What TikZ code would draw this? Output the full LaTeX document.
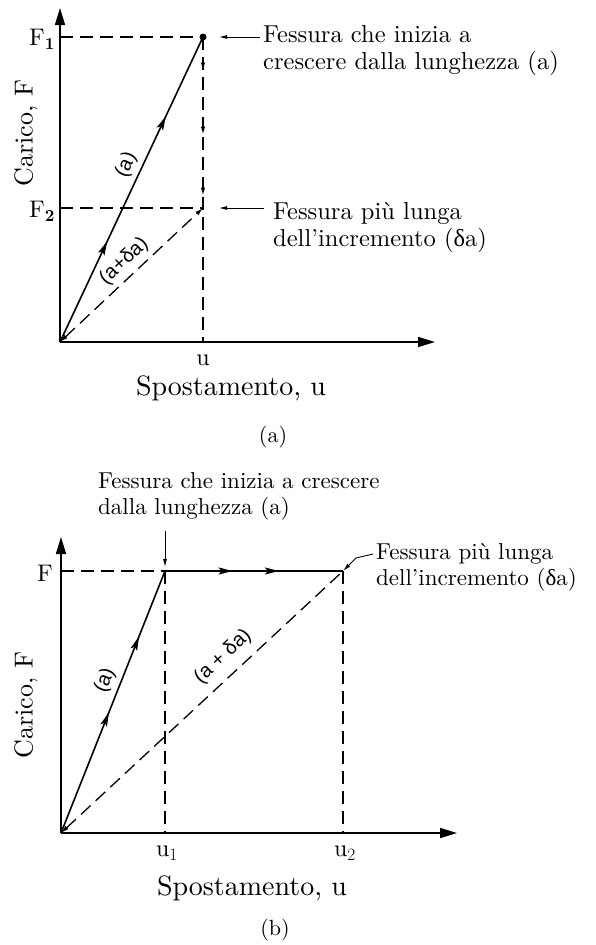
\documentclass[tikz,border=0pt]{standalone}
\usepackage{fontspec}
\setmainfont{lmroman10-regular.otf}[BoldFont=lmroman10-bold.otf]
\newfontfamily\grk{Liberation Serif}
\newfontfamily\lbl{Liberation Sans}
\usetikzlibrary{arrows.meta,decorations.markings}
\tikzset{
  flowtip/.tip={Stealth[length=14pt,width=7pt,inset=3pt]},
  smalltip/.tip={Latex[length=8pt,width=4.5pt]},
  axisline/.style={line width=1.6pt, -{Triangle[length=17pt,width=10pt]}},
  loadline/.style={line width=1.6pt},
  guide/.style={line width=1.3pt, dash pattern=on 13pt off 7pt},
  leader/.style={line width=0.9pt, -{Latex[length=8pt,width=4pt]}},
  annot/.style={font=\fontsize{24.5}{27}\selectfont, align=left, anchor=west, inner sep=0pt},
  annotb/.style={annot, font=\fontsize{23}{26}\selectfont},
  axlabel/.style={font=\fontsize{28}{30}\selectfont, inner sep=0pt},
  ylabel/.style={font=\fontsize{26}{28}\selectfont, inner sep=0pt, rotate=90},
  ticklabel/.style={font=\fontsize{24}{26}\selectfont, inner sep=0pt},
  caption/.style={font=\fontsize{22}{24}\selectfont, inner sep=0pt},
  curvelabel/.style={font=\lbl\fontsize{20}{22}\selectfont, sloped, above, inner sep=5pt},
  twoarrows/.style 2 args={postaction={decorate},
    decoration={markings, mark=at position #1 with {\arrow{flowtip}},
                          mark=at position #2 with {\arrow{flowtip}}}},
  threearrows/.style n args={3}{postaction={decorate},
    decoration={markings, mark=at position #1 with {\arrow{smalltip}},
                          mark=at position #2 with {\arrow{smalltip}},
                          mark=at position #3 with {\arrow{smalltip}}}},
}
\begin{document}
\begin{tikzpicture}[x=1pt,y=-1pt]
\useasboundingbox (0,0) rectangle (595,945);
% ---------------- (a) ----------------
\coordinate (O1) at (60,342);
\coordinate (Y1) at (60,8);
\coordinate (X1) at (435,342);
\coordinate (P1) at (203,37);
\coordinate (P2) at (203,208);
\coordinate (U1) at (203,342);
\coordinate (F1ax) at (60,37);
\coordinate (F2ax) at (60,208);
\coordinate (A1) at (260,37);
\coordinate (E1) at (219,37);
\coordinate (A2) at (264,208);
\coordinate (E2) at (219,208);

\draw[guide] (F1ax) -- (P1);
\draw[guide] (F2ax) -- (P2);
\draw[guide, threearrows={0.11}{0.32}{0.52}] (P1) -- (U1);
\draw[guide, smalltip-smalltip] (O1) -- (P2)
  node[curvelabel, pos=0.52] {(a+δa)};
\draw[loadline, twoarrows={0.33}{0.74}] (O1) -- (P1)
  node[curvelabel, pos=0.56] {(a)};
\draw[axisline] (O1) -- (Y1);
\draw[axisline] (O1) -- (X1);
\fill (P1) circle (3.5);

\node[annot] (T1) at (263,51) {Fessura che inizia a\\crescere dalla lunghezza (a)};
\node[annot] (T2) at (273,228) {Fessura più lunga\\dell’incremento ({\grk δ}a)};
\draw[leader] (A1) -- (E1);
\draw[leader] (A2) -- (E2);

\node[ticklabel] (F1l) at (42,39) {F$_{\mathbf 1}$};
\node[ticklabel] (F2l) at (42,211) {F$_{\mathbf 2}$};
\node[ticklabel] (ul) at (203,360) {u};
\node[axlabel] (xl1) at (231,388) {Spostamento, u};
\node[ylabel] (yl1) at (26,133) {Carico, F};
\node[caption] (cap1) at (273,437) {(a)};

% ---------------- (b) ----------------
\coordinate (O2) at (61,833);
\coordinate (Y2) at (61,537);
\coordinate (X2) at (457,833);
\coordinate (Q1) at (165,571);
\coordinate (Q2) at (343,571);
\coordinate (V1) at (165,833);
\coordinate (V2) at (343,833);
\coordinate (Fax) at (61,571);
\coordinate (B1) at (165,531);
\coordinate (B2) at (165,567);
\coordinate (L1) at (373,554);
\coordinate (L2) at (356,558);

\draw[guide] (Fax) -- (Q1);
\draw[guide] (Q1) -- (V1);
\draw[guide] (Q2) -- (V2);
\draw[guide, smalltip-] (O2) -- (Q2)
  node[curvelabel, pos=0.62, inner sep=9pt] {(a + δa)};
\draw[loadline, twoarrows={0.46}{0.75}] (O2) -- (Q1)
  node[curvelabel, pos=0.56] {(a)};
\draw[loadline, twoarrows={0.38}{0.64}] (Q1) -- (Q2);
\draw[axisline] (O2) -- (Y2);
\draw[axisline] (O2) -- (X2);
\draw[leader] (B1) -- (B2);
\draw[leader] (L1) -- (L2) -- (Q2);

\node[annotb] (T3) at (98,496) {Fessura che inizia a crescere\\dalla lunghezza (a)};
\node[annotb] (T4) at (376,567) {Fessura più lunga\\dell’incremento ({\grk δ}a)};

\node[ticklabel] (Fl) at (45,573) {F};
\node[ticklabel] (u1l) at (167,853) {u$_1$};
\node[ticklabel] (u2l) at (345,853) {u$_2$};
\node[axlabel] (xl2) at (252,888) {Spostamento, u};
\node[ylabel] (yl2) at (26,705) {Carico, F};
\node[caption] (cap2) at (275,930) {(b)};
\end{tikzpicture}
\end{document}
